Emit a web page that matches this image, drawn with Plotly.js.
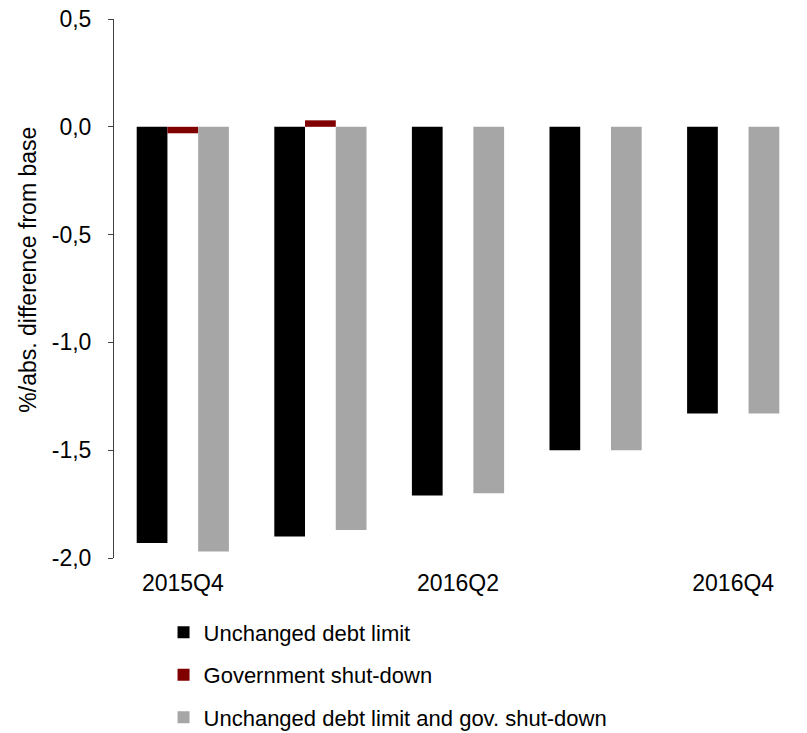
<!DOCTYPE html>
<html>
<head>
<meta charset="utf-8">
<script src="https://cdn.plot.ly/plotly-3.0.1.min.js"></script>
<style>html,body{margin:0;padding:0;background:#fff;}#chart{width:807px;height:733px;}</style>
</head>
<body>
<div id="chart"></div>
<script>
var categories = ['2015Q4', '2016Q1', '2016Q2', '2016Q3', '2016Q4'];
var tickLabels = ['2015Q4', '2016Q2', '2016Q4'];
var seriesNames = ['Unchanged debt limit', 'Government shut-down', 'Unchanged debt limit and gov. shut-down'];
var unchangedDebtLimit = [-1.93, -1.90, -1.71, -1.50, -1.33];
var governmentShutDown = [-0.03, 0.03, 0.0, 0.0, 0.0];
var debtLimitAndShutDown = [-1.97, -1.87, -1.70, -1.50, -1.33];
var yTicks = [-2.0, -1.5, -1.0, -0.5, 0.0, 0.5];
var yTitle = '%/abs. difference from base';

var colors = ['#000000', '#800000', '#a6a6a6'];
var seriesValues = [unchangedDebtLimit, governmentShutDown, debtLimitAndShutDown];
var FONT = 'Liberation Sans, Arial, sans-serif';
var FS = 23;

var yTickText = yTicks.map(function (v) { return v.toFixed(1).replace('.', ','); });

var traces = seriesValues.map(function (vals, i) {
  return {
    type: 'bar',
    x: categories,
    y: vals,
    name: seriesNames[i],
    legendgroup: 'g' + i,
    marker: {color: colors[i], line: {width: 0}},
    hoverinfo: 'x+y'
  };
});

var layout = {
  width: 807,
  height: 733,
  margin: {l: 114, r: 5, t: 19, b: 175, autoexpand: false},
  paper_bgcolor: '#ffffff',
  plot_bgcolor: '#ffffff',
  separators: ',.',
  font: {family: FONT, size: FS, color: '#000000'},
  barmode: 'group',
  bargap: 0.33,
  bargroupgap: 0,
  showlegend: true,
  legend: {
    orientation: 'v',
    x: 0.072, xanchor: 'left',
    y: -0.099, yanchor: 'top',
    traceorder: 'grouped',
    tracegroupgap: 11,
    font: {family: FONT, size: 22, color: '#000000'},
    bgcolor: 'rgba(0,0,0,0)'
  },
  xaxis: {
    type: 'category',
    categoryorder: 'array',
    categoryarray: categories,
    tickmode: 'array',
    tickvals: tickLabels,
    ticktext: tickLabels,
    range: [-0.5, categories.length - 0.5],
    showline: false,
    showgrid: false,
    zeroline: false,
    ticks: '',
    ticklabelstandoff: 9,
    tickfont: {family: FONT, size: FS, color: '#000000'}
  },
  xaxis2: {
    overlaying: 'x',
    anchor: 'free',
    position: 0.8,
    side: 'bottom',
    type: 'linear',
    range: [-0.5, categories.length - 0.5],
    tickmode: 'linear',
    tick0: 0.5,
    dtick: 1,
    ticks: 'outside',
    ticklen: 7,
    tickwidth: 1,
    tickcolor: '#7f7f7f',
    showline: true,
    linecolor: '#7f7f7f',
    linewidth: 1,
    showticklabels: false,
    showgrid: false,
    zeroline: false
  },
  yaxis: {
    range: [-2.0, 0.5],
    tickmode: 'array',
    tickvals: yTicks,
    ticktext: yTickText,
    ticks: 'outside',
    ticklen: 5,
    tickwidth: 1,
    tickcolor: '#404040',
    showline: true,
    linecolor: '#404040',
    linewidth: 1,
    showgrid: false,
    zeroline: false,
    ticklabelstandoff: 12,
    tickfont: {family: FONT, size: FS, color: '#000000'}
  },
  annotations: [{
    text: yTitle,
    xref: 'paper', yref: 'paper',
    x: -0.125, y: 0.535,
    xanchor: 'center', yanchor: 'middle',
    textangle: -90,
    showarrow: false,
    font: {family: FONT, size: FS, color: '#000000'}
  }]
};

Plotly.newPlot('chart', traces, layout, {displayModeBar: false, staticPlot: true});
</script>
</body>
</html>
